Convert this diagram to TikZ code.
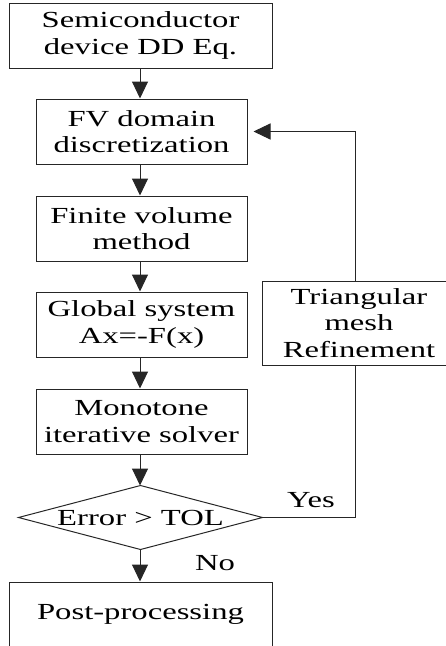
\documentclass[tikz,border=0pt]{standalone}
\usepackage{fontspec}
\setmainfont{Liberation Serif}[FakeStretch=1.42]
\usetikzlibrary{arrows.meta}
\begin{document}
\begin{tikzpicture}[x=1pt,y=-1pt,
  box/.style={draw=black!85, line width=1pt, align=center, inner sep=0pt, font=\fontsize{23}{26.7}\selectfont},
  wbox/.style={box, minimum width=263pt, minimum height=65pt},
  nbox/.style={box, minimum width=211pt, minimum height=65pt},
  arr/.style={draw=black!85, line width=1pt, -{Triangle[length=17pt,width=16pt]}},
  conn/.style={draw=black!85, line width=1pt},
  lab/.style={font=\fontsize{23}{26.7}\selectfont, inner sep=0pt}]
\useasboundingbox (0,0) rectangle (446,646);
\clip (0,0) rectangle (446,646);
\node[wbox] (b1) at (140.5,35.5) {Semiconductor\\device DD Eq.};
\node[nbox] (b2) at (141.5,131.5) {FV domain\\discretization};
\node[nbox] (b3) at (141.5,228.5) {Finite volume\\method};
\node[nbox] (b4) at (141.5,324.5) {Global system\\Ax=-F(x)};
\node[nbox] (b5) at (141.5,421.5) {Monotone\\iterative solver};
\node[box, draw=none, minimum width=243pt, minimum height=63pt] (d) at (140.5,517.5) {Error > TOL};
\draw[conn] (d.west) -- (d.north) -- (d.east) -- (d.south) -- cycle;
\node[wbox] (b6) at (140.5,614.5) {Post-processing};
\node[box, minimum width=194pt, minimum height=84pt] (r) at (359,323) {Triangular\\mesh\\Refinement};
\coordinate (fx) at (355.5,0);
\coordinate (ax) at (140,0);
\draw[arr] (b1.south -| ax) -- (b2.north -| ax);
\draw[arr] (b2.south -| ax) -- (b3.north -| ax);
\draw[arr] (b3.south -| ax) -- (b4.north -| ax);
\draw[arr] (b4.south -| ax) -- (b5.north -| ax);
\draw[arr] (b5.south -| ax) -- (d.north -| ax);
\draw[arr] (d.south -| ax) -- (b6.north -| ax);
\draw[arr, shorten >=6pt] (r.north -| fx) |- (b2.east);
\draw[conn] (d.east) -| (r.south -| fx);
\node[lab] (yes) at (311,500) {Yes};
\node[lab] (no) at (215,563) {No};
\end{tikzpicture}
\end{document}
